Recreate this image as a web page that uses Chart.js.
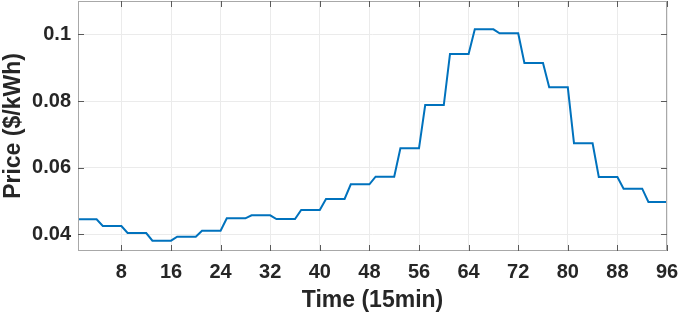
<!DOCTYPE html>
<html>
<head>
<meta charset="utf-8">
<script src="https://cdn.jsdelivr.net/npm/chart.js@4"></script>
<style>
  html, body { margin: 0; padding: 0; background: #fff; }
  #wrap { width: 681px; height: 318px; }
</style>
</head>
<body>
<div id="wrap"><canvas id="chart"></canvas></div>
<script>
// price per 15min slot (96 slots)
const prices = [
  0.0445, 0.0445, 0.0445, 0.0445,
  0.0425, 0.0425, 0.0425, 0.0425,
  0.0404, 0.0404, 0.0404, 0.0404,
  0.0381, 0.0381, 0.0381, 0.0381,
  0.0393, 0.0393, 0.0393, 0.0393,
  0.0411, 0.0411, 0.0411, 0.0411,
  0.0448, 0.0448, 0.0448, 0.0448,
  0.0457, 0.0457, 0.0457, 0.0457,
  0.0446, 0.0446, 0.0446, 0.0446,
  0.0473, 0.0473, 0.0473, 0.0473,
  0.0506, 0.0506, 0.0506, 0.0506,
  0.0550, 0.0550, 0.0550, 0.0550,
  0.0573, 0.0573, 0.0573, 0.0573,
  0.0658, 0.0658, 0.0658, 0.0658,
  0.0788, 0.0788, 0.0788, 0.0788,
  0.0941, 0.0941, 0.0941, 0.0941,
  0.1015, 0.1015, 0.1015, 0.1015,
  0.1003, 0.1003, 0.1003, 0.1003,
  0.0914, 0.0914, 0.0914, 0.0914,
  0.0841, 0.0841, 0.0841, 0.0841,
  0.0673, 0.0673, 0.0673, 0.0673,
  0.0572, 0.0572, 0.0572, 0.0572,
  0.0537, 0.0537, 0.0537, 0.0537,
  0.0497, 0.0497, 0.0497, 0.0497
];
const xTicks = [8, 16, 24, 32, 40, 48, 56, 64, 72, 80, 88, 96];
const yTicks = [0.04, 0.06, 0.08, 0.1];

const points = prices.map((p, i) => ({x: i + 1, y: p}));

// MATLAB-ish box: top/right border and inward tick marks
const boxPlugin = {
  id: 'box',
  afterDraw(chart) {
    const ctx = chart.ctx;
    const a = chart.chartArea;
    const xs = chart.scales.x, ys = chart.scales.y;
    ctx.save();
    ctx.strokeStyle = '#a8a8a8';
    ctx.lineWidth = 1;
    ctx.strokeRect(a.left + 0.5, a.top + 0.5, a.right - a.left - 1, a.bottom - a.top - 1);
    ctx.strokeStyle = '#5a5a5a';
    ctx.beginPath();
    xTicks.forEach(v => {
      const px = Math.round(xs.getPixelForValue(v)) + 0.5;
      ctx.moveTo(px, a.bottom); ctx.lineTo(px, a.bottom - 6);
      ctx.moveTo(px, a.top); ctx.lineTo(px, a.top + 6);
    });
    yTicks.forEach(v => {
      const py = Math.round(ys.getPixelForValue(v)) + 0.5;
      ctx.moveTo(a.left, py); ctx.lineTo(a.left + 6, py);
      ctx.moveTo(a.right, py); ctx.lineTo(a.right - 6, py);
    });
    ctx.stroke();
    ctx.restore();
  }
};

const font = 'Liberation Sans, Arial, Helvetica, sans-serif';

new Chart(document.getElementById('chart'), {
  type: 'line',
  data: {
    datasets: [{
      data: points,
      borderColor: '#0072BD',
      borderWidth: 2,
      pointRadius: 0,
      tension: 0,
      fill: false
    }]
  },
  options: {
    responsive: true,
    maintainAspectRatio: false,
    animation: false,
    layout: {padding: {top: 1, right: 14, left: 0, bottom: 0}},
    plugins: {legend: {display: false}, tooltip: {enabled: false}},
    scales: {
      x: {
        type: 'linear',
        min: 1,
        max: 96,
        afterBuildTicks: s => { s.ticks = xTicks.map(v => ({value: v})); },
        afterFit: s => { s.height = 67; s.paddingLeft = 0; s.paddingRight = 0; },
        grid: {color: '#ebebeb', drawTicks: false},
        border: {display: false},
        ticks: {
          padding: 9,
          color: '#262626',
          font: {family: font, size: 20, weight: 'bold'},
          maxRotation: 0,
          callback: v => String(v)
        },
        title: {
          display: true,
          text: 'Time (15min)',
          color: '#262626',
          font: {family: font, size: 23, weight: 'bold'},
          padding: {top: 0, bottom: 4}
        }
      },
      y: {
        min: 0.035,
        max: 0.11,
        afterBuildTicks: s => { s.ticks = yTicks.map(v => ({value: v})); },
        afterFit: s => { s.width = 78; s.paddingTop = 0; s.paddingBottom = 0; },
        grid: {color: '#ebebeb', drawTicks: false},
        border: {display: false},
        ticks: {
          padding: 7,
          color: '#262626',
          font: {family: font, size: 20, weight: 'bold'},
          callback: v => String(Math.round(v * 100) / 100)
        },
        title: {
          display: true,
          text: 'Price ($/kWh)',
          color: '#262626',
          font: {family: font, size: 23, weight: 'bold'},
          padding: 0
        }
      }
    }
  },
  plugins: [boxPlugin]
});
</script>
</body>
</html>
